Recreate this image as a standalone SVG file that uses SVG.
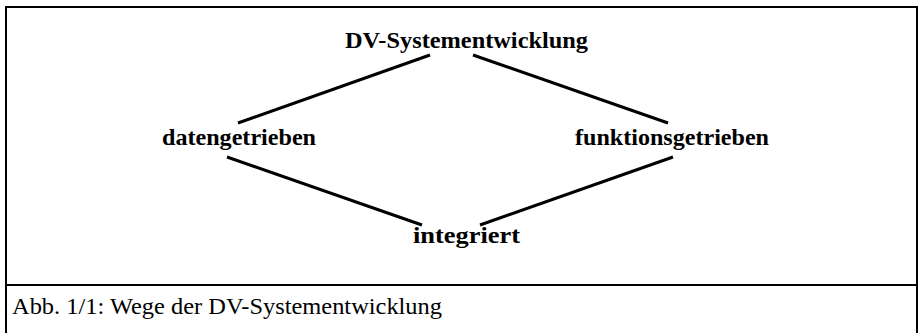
<svg xmlns="http://www.w3.org/2000/svg" width="919" height="333" viewBox="0 0 919 333">
  <style>
    .frame { fill: none; stroke: #000; stroke-width: 2; }
    .edge { stroke: #000; stroke-width: 3; stroke-linecap: butt; fill: none; }
    .label { font-family: "Liberation Serif", "Times New Roman", serif; font-size: 24px; font-weight: bold; fill: #000; }
    .caption { font-family: "Liberation Serif", "Times New Roman", serif; font-size: 24px; fill: #000; }
  </style>
  <rect width="919" height="333" fill="#fff"/>

  <!-- outer frame and caption divider -->
  <g id="frame">
    <path class="frame" d="M6 333 V7 H917 V333"/>
    <line class="frame" x1="6" y1="285" x2="917" y2="285"/>
  </g>

  <!-- connectors -->
  <g id="connectors">
    <line class="edge" x1="430" y1="55" x2="238" y2="123"/>
    <line class="edge" x1="473" y1="55" x2="668" y2="123"/>
    <line class="edge" x1="227" y1="157" x2="422" y2="225"/>
    <line class="edge" x1="673" y1="157" x2="480" y2="225"/>
  </g>

  <g id="node-dv">
    <text class="label" x="345" y="48" textLength="243" lengthAdjust="spacingAndGlyphs">DV-Systementwicklung</text>
  </g>
  <g id="node-daten">
    <text class="label" x="162" y="145" textLength="154" lengthAdjust="spacingAndGlyphs">datengetrieben</text>
  </g>
  <g id="node-funktion">
    <text class="label" x="575" y="145" textLength="194" lengthAdjust="spacingAndGlyphs">funktionsgetrieben</text>
  </g>
  <g id="node-integriert">
    <text class="label" x="413" y="243" textLength="107" lengthAdjust="spacingAndGlyphs">integriert</text>
  </g>

  <g id="caption">
    <text class="caption" x="12" y="314" textLength="430" lengthAdjust="spacingAndGlyphs">Abb. 1/1: Wege der DV-Systementwicklung</text>
  </g>
</svg>
